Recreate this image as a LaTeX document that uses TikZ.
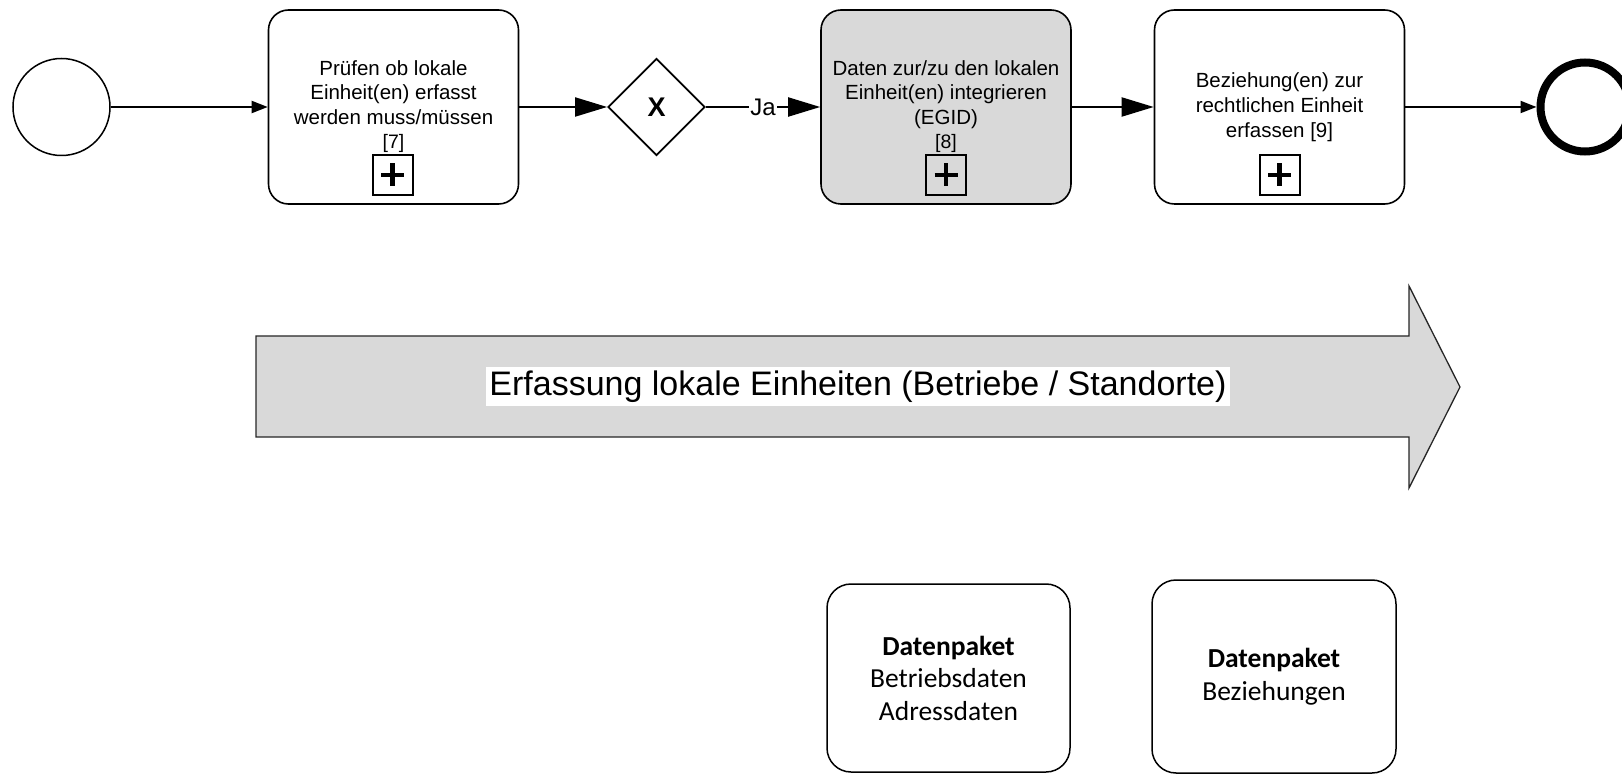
\documentclass[tikz,border=0pt]{standalone}
\usepackage{fontspec}
\setmainfont{Liberation Sans}
\newfontfamily\carlito{Carlito}
\usetikzlibrary{shapes.geometric,arrows.meta}
\definecolor{taskgray}{HTML}{D9D9D9}
% reference numbers under the task titles are set a little smaller
\newcommand\refsize{\fontsize{19.5}{21}\selectfont}
\begin{document}
\begin{tikzpicture}[x=1pt,y=-1pt,
  task/.style={draw, line width=1.6pt, rounded corners=20pt,
    minimum width=250pt, minimum height=194pt, inner sep=0pt},
  tasktext/.style={align=center, inner sep=0pt,
    font=\fontsize{20.5}{24.5}\selectfont},
  plusbox/.style={draw, line width=2pt, minimum size=40pt, inner sep=0pt,
    path picture={
      \draw[line width=4.2pt] (path picture bounding box.center) ++(-11.5,0) -- ++(23,0);
      \draw[line width=4.2pt] (path picture bounding box.center) ++(0,-11.5) -- ++(0,23);
    }},
  startev/.style={circle, draw, line width=1.5pt, minimum size=97pt, inner sep=0pt},
  endev/.style={circle, draw, line width=8pt, minimum size=89pt, inner sep=0pt},
  gateway/.style={diamond, draw, line width=1.8pt, aspect=1, minimum size=97pt, inner sep=0pt},
  flow/.style={line width=2pt, -{Triangle[length=16pt,width=12pt]}},
  bigflow/.style={line width=2pt, -{Triangle[length=32pt,width=19pt]}},
  jalabel/.style={fill=white, inner xsep=1pt, inner ysep=2pt,
    font=\fontsize{24}{26}\selectfont},
  band/.style={fill=taskgray, draw=black!85, line width=1.3pt, line join=miter},
  bandlabel/.style={fill=white, inner xsep=3pt, inner ysep=4pt,
    font=\fontsize{34}{38}\selectfont},
  databox/.style={draw, line width=1.5pt, rounded corners=24pt, inner sep=0pt,
    align=center, font=\carlito\fontsize{27.5}{32.5}\selectfont}
]
\useasboundingbox (0,0) rectangle (1622,775);
\clip (0,0) rectangle (1622,775);

% process row
\node[startev] (start) at (61.5,107) {};

\node[task] (t1) at (393.5,107) {};
\node[tasktext] (t1txt) at (393.5,106.5)
  {Prüfen ob lokale\\Einheit(en) erfasst\\werden muss/müssen\\{\refsize[7]}};
\node[plusbox] (p1) at (392.5,175) {};

\node[gateway] (gw) at (656.5,107) {};
\node[font=\fontsize{27}{29}\selectfont\bfseries, inner sep=0pt] (gwx) at (656.5,107) {X};

\node[task, fill=taskgray] (t2) at (946,107) {};
\node[tasktext] (t2txt) at (946,106.5)
  {Daten zur/zu den lokalen\\Einheit(en) integrieren\\(EGID)\\{\refsize[8]}};
\node[plusbox] (p2) at (946,175) {};

\node[task] (t3) at (1279.5,107) {};
\node[tasktext, font=\fontsize{20.5}{25}\selectfont] (t3txt) at (1279.5,107.3)
  {Beziehung(en) zur\\rechtlichen Einheit\\erfassen [9]};
\node[plusbox] (p3) at (1279.5,175) {};

\node[endev] (end) at (1585,107) {};

\draw[flow] (start) -- (t1);
\draw[bigflow] (t1) -- (gw);
\draw[bigflow] (gw) -- node[jalabel] (ja) {Ja} (t2);
\draw[bigflow] (t2) -- (t3);
\draw[flow] (t3) -- (end);

% phase band
\draw[band] (256,336) -- (1409,336) -- (1409,286) -- (1460,387)
  -- (1409,488) -- (1409,437) -- (256,437) -- cycle;
\node[bandlabel] (bandtxt) at (858,386.5)
  {Erfassung lokale Einheiten (Betriebe / Standorte)};

% data packages
\node[databox, minimum width=243pt, minimum height=188pt] (d1) at (948.5,678)
  {\textbf{Datenpaket}\\Betriebsdaten\\Adressdaten};
\node[databox, minimum width=244pt, minimum height=193pt] (d2) at (1274,676.5)
  {\textbf{Datenpaket}\\Beziehungen};
\end{tikzpicture}
\end{document}
